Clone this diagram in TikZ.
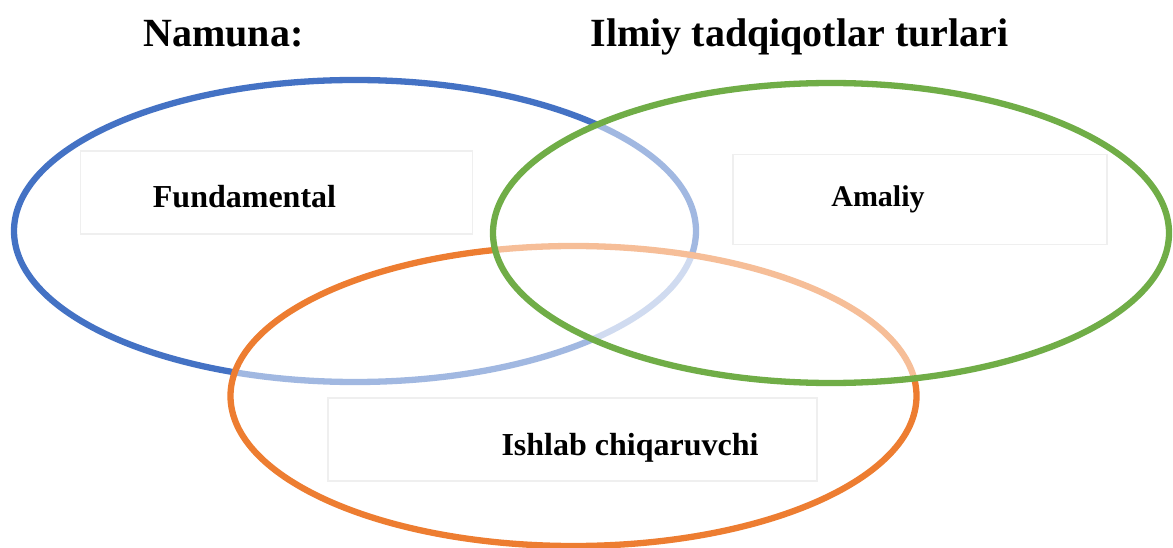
\documentclass[tikz,border=0pt]{standalone}
\usepackage{fontspec}
\setmainfont{Liberation Serif}
\definecolor{oblue}{HTML}{4472C4}
\definecolor{oorange}{HTML}{ED7D31}
\definecolor{ogreen}{HTML}{70AD47}
\definecolor{boxgray}{HTML}{EFEFEF}
\begin{document}
\begin{tikzpicture}[x=1pt,y=-1pt,
  ring/.style={line width=6.3pt},
  veil/.style={fill=white,fill opacity=0.5},
  labelbox/.style={draw=boxgray,line width=1.5pt,inner sep=0pt},
  lbl/.style={font=\bfseries\fontsize{32}{38}\selectfont,anchor=base,inner sep=0pt},
  lblsm/.style={font=\bfseries\fontsize{30}{36}\selectfont,anchor=base,inner sep=0pt},
  ttl/.style={font=\bfseries\fontsize{40}{48}\selectfont,anchor=base,inner sep=0pt}]
\clip (0,0) rectangle (1173,548);
\useasboundingbox (0,0) rectangle (1173,548);
% ellipses
\draw[ring,oblue] (355,231) ellipse [x radius=341,y radius=151];
\draw[ring,oorange,veil] (573.5,396) ellipse [x radius=343,y radius=150];
\draw[ring,ogreen,veil] (831,233) ellipse [x radius=338,y radius=150];
% label boxes
\node[labelbox,minimum width=392pt,minimum height=83pt] (bf) at (276.5,192.5) {};
\node[labelbox,minimum width=374pt,minimum height=90pt] (ba) at (920,199.5) {};
\node[labelbox,minimum width=489pt,minimum height=83pt] (bi) at (572.5,439.5) {};
% labels
\node[lbl] (tf) at (244.5,208) {Fundamental};
\node[lblsm] (ta) at (878,207) {Amaliy};
\node[lbl] (ti) at (630,455) {Ishlab chiqaruvchi};
% titles
\node[ttl] (t1) at (223.5,47) {Namuna:};
\node[ttl] (t2) at (799.5,47) {Ilmiy tadqiqotlar turlari};
\end{tikzpicture}
\end{document}
